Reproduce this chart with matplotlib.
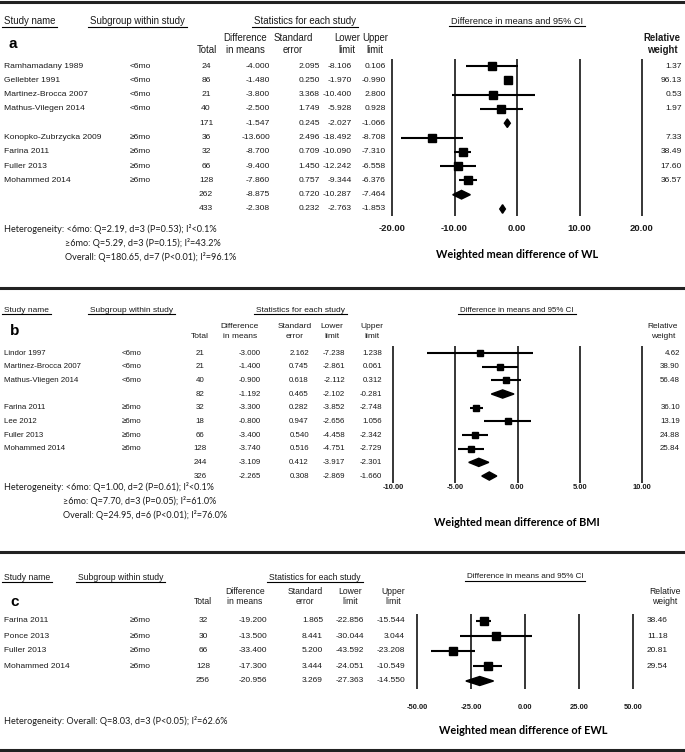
import matplotlib
matplotlib.use("Agg")
import matplotlib.pyplot as plt
from matplotlib.patches import Polygon
from matplotlib.transforms import blended_transform_factory

# ---- panel a: weight loss (WL) ----
studies_a = ["Ramhamadany 1989", "Gellebter 1991", "Martinez-Brocca 2007", "Mathus-Vilegen 2014", "",
             "Konopko-Zubrzycka 2009", "Farina 2011", "Fuller 2013", "Mohammed 2014", "", ""]
groups_a = ["<6mo"] * 4 + [""] + ["\u22656mo"] * 4 + ["", ""]
total_a = [24, 86, 21, 40, 171, 36, 32, 66, 128, 262, 433]
diff_a = [-4.000, -1.480, -3.800, -2.500, -1.547, -13.600, -8.700, -9.400, -7.860, -8.875, -2.308]
se_a = [2.095, 0.250, 3.368, 1.749, 0.245, 2.496, 0.709, 1.450, 0.757, 0.720, 0.232]
lo_a = [-8.106, -1.970, -10.400, -5.928, -2.027, -18.492, -10.090, -12.242, -9.344, -10.287, -2.763]
hi_a = [0.106, -0.990, 2.800, 0.928, -1.066, -8.708, -7.310, -6.558, -6.376, -7.464, -1.853]
weight_a = [1.37, 96.13, 0.53, 1.97, None, 7.33, 38.49, 17.60, 36.57, None, None]
ticks_a = [-20, -10, 0, 10, 20]
het_a = ["Heterogeneity: <6mo: Q=2.19, d=3 (P=0.53); I\u00b2<0.1%",
         "\u22656mo: Q=5.29, d=3 (P=0.15); I\u00b2=43.2%",
         "Overall: Q=180.65, d=7 (P<0.01); I\u00b2=96.1%"]

# ---- panel b: BMI ----
studies_b = ["Lindor 1997", "Martinez-Brocca 2007", "Mathus-Vliegen 2014", "",
             "Farina 2011", "Lee 2012", "Fuller 2013", "Mohammed 2014", "", ""]
groups_b = ["<6mo"] * 3 + [""] + ["\u22656mo"] * 4 + ["", ""]
total_b = [21, 21, 40, 82, 32, 18, 66, 128, 244, 326]
diff_b = [-3.000, -1.400, -0.900, -1.192, -3.300, -0.800, -3.400, -3.740, -3.109, -2.265]
se_b = [2.162, 0.745, 0.618, 0.465, 0.282, 0.947, 0.540, 0.516, 0.412, 0.308]
lo_b = [-7.238, -2.861, -2.112, -2.102, -3.852, -2.656, -4.458, -4.751, -3.917, -2.869]
hi_b = [1.238, 0.061, 0.312, -0.281, -2.748, 1.056, -2.342, -2.729, -2.301, -1.660]
weight_b = [4.62, 38.90, 56.48, None, 36.10, 13.19, 24.88, 25.84, None, None]
ticks_b = [-10, -5, 0, 5, 10]
het_b = ["Heterogeneity: <6mo: Q=1.00, d=2 (P=0.61); I\u00b2<0.1%",
         "\u22656mo: Q=7.70, d=3 (P=0.05); I\u00b2=61.0%",
         "Overall: Q=24.95, d=6 (P<0.01); I\u00b2=76.0%"]

# ---- panel c: excess weight loss (EWL) ----
studies_c = ["Farina 2011", "Ponce 2013", "Fuller 2013", "Mohammed 2014", ""]
groups_c = ["\u22656mo"] * 4 + [""]
total_c = [32, 30, 66, 128, 256]
diff_c = [-19.200, -13.500, -33.400, -17.300, -20.956]
se_c = [1.865, 8.441, 5.200, 3.444, 3.269]
lo_c = [-22.856, -30.044, -43.592, -24.051, -27.363]
hi_c = [-15.544, 3.044, -23.208, -10.549, -14.550]
weight_c = [38.46, 11.18, 20.81, 29.54, None]
ticks_c = [-50, -25, 0, 25, 50]
het_c = ["Heterogeneity: Overall: Q=8.03, d=3 (P<0.05); I\u00b2=62.6%"]

W, H = 685, 752
TAB = "Liberation Sans"
CAL = "Lato"
INK = "#1a1a1a"

fig = plt.figure(figsize=(W / 100, H / 100), dpi=100)
bg = fig.add_axes([0, 0, 1, 1])
bg.set_xlim(0, W)
bg.set_ylim(H, 0)
bg.axis("off")

heads = []


def draw_panel(p, studies, groups, total, diff, se, lo, hi, weight, ticks, het):
    n = len(studies)
    top = p["row0"] - p["step"] / 2
    bottom = p["row0"] + p["step"] * (n - 0.5)
    ax = fig.add_axes([p["left"] / W, 1 - bottom / H,
                       (p["right"] - p["left"]) / W, (bottom - top) / H])
    ax.patch.set_alpha(0)
    ax.set_xlim(ticks[0], ticks[-1])
    ax.set_ylim(n - 0.5, -0.5)
    for s in ax.spines.values():
        s.set_visible(False)
    ax.set_yticks([])
    ax.set_xticks(ticks)
    ax.set_xticklabels(["%.2f" % t for t in ticks], fontsize=p["tick_fs"],
                       fontweight="bold", family=TAB, color=INK)
    ax.tick_params(axis="x", length=0, pad=p["tick_pad"])
    ax.vlines(ticks, -0.5, n - 0.5, color="black", lw=1.1, clip_on=False)

    for i in range(n):
        if weight[i] is not None:
            ax.plot([lo[i], hi[i]], [i, i], color="black", lw=1.5, solid_capstyle="butt")
            ax.plot(diff[i], i, marker="s", ms=p["ms"], color="black", mec="black")
        else:
            h = 0.3
            ax.add_patch(Polygon([(lo[i], i), (diff[i], i - h), (hi[i], i), (diff[i], i + h)],
                                 closed=True, color="black"))

    tr = blended_transform_factory(bg.transData, ax.transData)
    fs = p["fs"]
    kw = dict(transform=tr, va="center", fontsize=fs, family=TAB, color=INK)
    for i in range(n):
        ax.text(p["name_x"], i, studies[i], ha="left", **kw)
        ax.text(p["sub_x"], i, groups[i], ha="left", **kw)
        ax.text(p["total_x"], i, "%d" % total[i], ha="center", **kw)
        ax.text(p["diff_x"], i, "%.3f" % diff[i], ha="right", **kw)
        ax.text(p["se_x"], i, "%.3f" % se[i], ha="right", **kw)
        ax.text(p["lo_x"], i, "%.3f" % lo[i], ha="right", **kw)
        ax.text(p["hi_x"], i, "%.3f" % hi[i], ha="right", **kw)
        if weight[i] is not None:
            ax.text(p["wt_x"], i, "%.2f" % weight[i], ha="right", **kw)

    # column headers
    hf = p["head_fs"]
    hk = dict(va="center", fontsize=hf, family=TAB, color=INK)
    y1, y2 = p["hy1"], p["hy2"]
    bg.text(p["h_total"], y2, "Total", ha="center", **hk)
    bg.text(p["h_diff"], y1, "Difference", ha="center", **hk)
    bg.text(p["h_diff"], y2, "in means", ha="center", **hk)
    bg.text(p["h_se"], y1, "Standard", ha="center", **hk)
    bg.text(p["h_se"], y2, "error", ha="center", **hk)
    bg.text(p["h_lo"], y1, "Lower", ha="center", **hk)
    bg.text(p["h_lo"], y2, "limit", ha="center", **hk)
    bg.text(p["h_hi"], y1, "Upper", ha="center", **hk)
    bg.text(p["h_hi"], y2, "limit", ha="center", **hk)
    bg.text(p["h_wt"], y1, "Relative", ha="center", fontweight=p["wt_weight"], **hk)
    bg.text(p["h_wt"], y2, "weight", ha="center", fontweight=p["wt_weight"], **hk)

    hy = p["head_y"]
    heads.append(bg.text(4, hy, "Study name", ha="left", **hk))
    heads.append(bg.text(p["h_sub"], hy, "Subgroup within study", ha="left", **hk))
    heads.append(bg.text(p["h_stats"], hy, "Statistics for each study", ha="center", **hk))
    heads.append(bg.text(p["h_ci"], hy, "Difference in means and 95% CI", ha="center",
                         va="center", fontsize=hf - 0.3, family=TAB, color=INK))

    bg.text(p["letter"][0], p["letter"][1], p["tag"], ha="left", va="center",
            fontsize=11, fontweight="bold", family=TAB)

    # heterogeneity and axis title
    for k, line in enumerate(het):
        x = 4 if k == 0 else p["het_x2"]
        bg.text(x, p["het_y"] + k * 14, line, ha="left", va="center",
                fontsize=p["het_fs"], family=CAL, color=INK)
    bg.text(p["title_x"], p["title_y"], p["title"], ha="center", va="center",
            fontsize=7.8, fontweight="bold", family=CAL)


pa = dict(tag="a", row0=66, step=14.3, left=392, right=642, ms=5.6,
          tick_fs=6.8, tick_pad=6.0, fs=6.1, head_fs=6.9,
          name_x=4, sub_x=130, total_x=206, diff_x=270, se_x=320, lo_x=352, hi_x=386, wt_x=682,
          hy1=38, hy2=50, head_y=21, h_total=207, h_diff=245, h_se=293, h_lo=347, h_hi=375,
          h_wt=662, wt_weight="bold", h_sub=90, h_stats=305, h_ci=517, letter=(9, 44),
          het_y=229, het_x2=65, het_fs=6.6, title_x=517, title_y=254,
          title="Weighted mean difference of WL")
pb = dict(tag="b", row0=353, step=13.67, left=393, right=642, ms=5.0,
          tick_fs=5.4, tick_pad=0.8, fs=5.7, head_fs=6.0,
          name_x=4, sub_x=122, total_x=200, diff_x=261, se_x=309, lo_x=345, hi_x=382, wt_x=680,
          hy1=327, hy2=337, head_y=310, h_total=200, h_diff=240, h_se=295, h_lo=332, h_hi=372,
          h_wt=663, wt_weight="normal", h_sub=90, h_stats=301, h_ci=517, letter=(10, 331),
          het_y=487, het_x2=63, het_fs=6.5, title_x=517, title_y=522,
          title="Weighted mean difference of BMI")
pc = dict(tag="c", row0=621, step=15.0, left=417, right=633, ms=5.6,
          tick_fs=5.4, tick_pad=11.0, fs=6.0, head_fs=6.2,
          name_x=4, sub_x=130, total_x=203, diff_x=267, se_x=323, lo_x=364, hi_x=405, wt_x=668,
          hy1=592, hy2=602, head_y=577, h_total=203, h_diff=245, h_se=305, h_lo=350, h_hi=393,
          h_wt=665, wt_weight="normal", h_sub=78, h_stats=315, h_ci=525, letter=(10, 602),
          het_y=721, het_x2=5, het_fs=6.6, title_x=523, title_y=730,
          title="Weighted mean difference of EWL")

draw_panel(pa, studies_a, groups_a, total_a, diff_a, se_a, lo_a, hi_a, weight_a, ticks_a, het_a)
draw_panel(pb, studies_b, groups_b, total_b, diff_b, se_b, lo_b, hi_b, weight_b, ticks_b, het_b)
draw_panel(pc, studies_c, groups_c, total_c, diff_c, se_c, lo_c, hi_c, weight_c, ticks_c, het_c)

# panel separators
for y in [1.5, 288, 552, 749.5]:
    bg.axhline(y, color="#222222", lw=2.2)

# underline the section headers
fig.canvas.draw()
inv = bg.transData.inverted()
for t in heads:
    bb = t.get_window_extent()
    (x0, yb), (x1, _) = inv.transform([[bb.x0, bb.y0], [bb.x1, bb.y1]])
    bg.plot([x0 - 2, x1 + 2], [yb + 0.5, yb + 0.5], color="black", lw=0.8)

fig.savefig("out.png", dpi=100)
